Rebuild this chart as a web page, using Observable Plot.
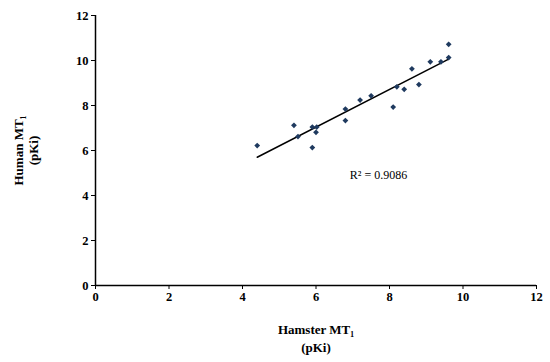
<!DOCTYPE html>
<html><head><meta charset="utf-8">
<script src="https://cdn.jsdelivr.net/npm/d3@7"></script>
<script src="https://cdn.jsdelivr.net/npm/@observablehq/plot@0.6"></script>
<style>body{margin:0;background:#fff}</style>
</head><body><div id="chart"></div>
<script>
const hamster = [4.40,5.40,5.51,5.90,6.02,5.90,6.00,6.80,6.80,7.20,7.50,8.10,8.20,8.40,8.61,8.80,9.11,9.40,9.61,9.61];
const human   = [6.22,7.12,6.62,7.04,7.04,6.13,6.81,7.84,7.33,8.24,8.43,7.93,8.83,8.72,9.63,8.93,9.94,9.94,10.72,10.13];
const ticks = [0,2,4,6,8,10,12];
const xLabel = "Hamster MT₁\n(pKi)";
const yLabel = "Human MT₁\n(pKi)";
const r2Label = "R² = 0.9086";
const r2Pos = [{x: 7.7, y: 4.9}];

const data = hamster.map((h, i) => ({x: h, y: human[i]}));
const font = "'Liberation Serif', 'DejaVu Serif', serif";

const chart = Plot.plot({
  width: 550, height: 362,
  marginLeft: 95, marginRight: 14, marginTop: 15, marginBottom: 77,
  style: {fontFamily: font, fontSize: "12px", fontWeight: "bold", color: "#000", background: "#fff"},
  x: {domain: [0, 12], ticks: ticks},
  y: {domain: [0, 12], ticks: ticks},
  marks: [
    Plot.axisX({ticks, tickSize: 4, tickPadding: 3, label: null, fontSize: 12.5, fontWeight: "bold"}),
    Plot.axisY({ticks, tickSize: 4, tickPadding: 3, label: null, fontSize: 12.5, fontWeight: "bold"}),
    Plot.ruleX([0], {stroke: "#000", strokeWidth: 1.5}),
    Plot.ruleY([0], {stroke: "#000", strokeWidth: 1.5}),
    Plot.linearRegressionY(data, {x: "x", y: "y", ci: 0, stroke: "#000", strokeWidth: 1.5}),
    Plot.dot(data, {x: "x", y: "y", symbol: "diamond2", r: 2.6, fill: "#1f3a5f", stroke: "none"}),
    Plot.text(r2Pos, {x: "x", y: "y", text: () => r2Label, fontSize: 12, fontWeight: "normal", fill: "#000"}),
    Plot.text([xLabel], {frameAnchor: "bottom", textAnchor: "middle", dy: 66, text: d => d, fontSize: 13, fontWeight: "bold", lineHeight: 1.35, fill: "#000"}),
    Plot.text([yLabel], {frameAnchor: "left", textAnchor: "middle", dx: -70, rotate: -90, text: d => d, fontSize: 13, fontWeight: "bold", lineHeight: 1.2, fill: "#000"})
  ]
});
document.getElementById("chart").append(chart);
</script>
</body></html>
